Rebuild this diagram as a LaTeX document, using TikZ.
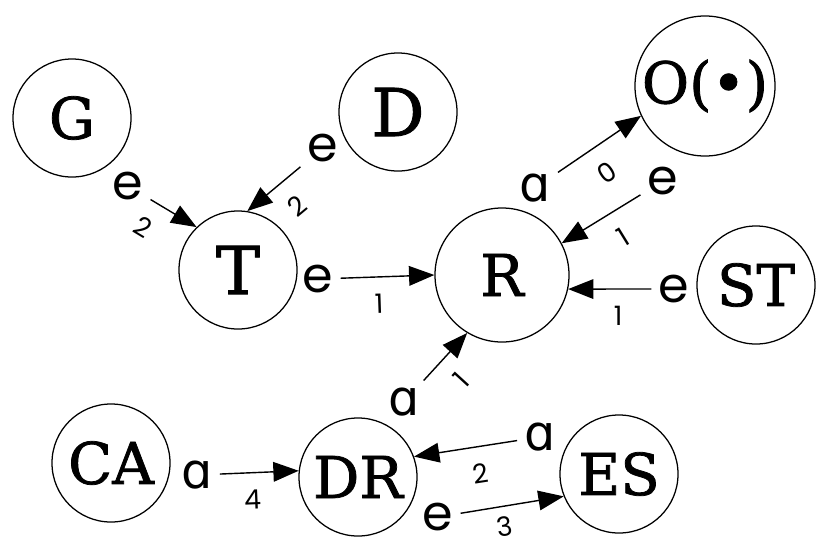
\documentclass[tikz,border=0pt]{standalone}
\usepackage{fontspec}
\setmainfont{DejaVu Serif}
\newfontfamily\nodefont[FakeBold=1.3]{DejaVu Serif}
\newfontfamily\lblfont{Poppins}
\newfontfamily\alffont{DejaVu Sans}
\usetikzlibrary{arrows.meta}

\begin{document}
\begin{tikzpicture}[
    x=0.025cm, y=-0.025cm,
    % states (circles)
    stnode/.style={circle, draw, line width=0.9pt, minimum size=2.95cm, inner sep=0pt,
                   font=\nodefont\fontsize{41}{45}\selectfont},
    bigtxt/.style={font=\nodefont\fontsize{47}{50}\selectfont},
    % edge labels (e / alpha) and weights
    lbl/.style={inner sep=5pt, font=\lblfont\fontsize{35}{35}\selectfont},
    alf/.style={lbl, font=\alffont\fontsize{35}{35}\selectfont},
    num/.style={sloped, below=#1, inner sep=1pt, pos=0.4,
                font=\lblfont\fontsize{19}{19}\selectfont},
    num/.default=11pt,
    arr/.style={-{Triangle[length=18pt,width=14pt]}, line width=1pt},
]
\useasboundingbox (0,0) rectangle (816,547);

% -------------------------
% States
% -------------------------
\node[stnode] (G) at (72,118) {G};
\node[stnode, bigtxt] (D) at (398,112) {D};
\node[stnode, bigtxt] (T) at (238,270) {T};
\node[stnode, minimum size=3.35cm] (R) at (502,275) {R};
\node[stnode, minimum size=3.5cm] (O) at (705,86) {O(•)};
\node[stnode] (ST) at (756,285) {ST};
\node[stnode] (CA) at (111,463) {CA};
\node[stnode] (DR) at (358,477) {DR};
\node[stnode] (ES) at (619,474) {ES};

% -------------------------
% Labels at the start of each edge
% -------------------------
\node[lbl] (eGT) at (128,186) {e};
\node[lbl] (eDT) at (323,148) {e};
\node[lbl] (eTR) at (318,279) {e};
\node[alf] (aRO) at (535,188) {ɑ};
\node[lbl] (eOR) at (663,181) {e};
\node[lbl] (eSR) at (674,289) {e};
\node[alf] (aDR) at (404,402) {ɑ};
\node[alf] (aCA) at (197,475) {ɑ};
\node[alf] (aES) at (540,437) {ɑ};
\node[lbl] (eDE) at (438,517) {e};

% -------------------------
% Edges with weights
% -------------------------
\draw[arr] (eGT) -- node[num, pos=0.15] {2} (T.134);
\draw[arr] (eDT) -- node[num] {2} (T.81);
\draw[arr] (eTR) -- node[num] {1} (R.180);
\draw[arr] (aRO) -- node[num] {0} (O.205);
\draw[arr] (eOR) -- node[num] {1} (R.28);
\draw[arr] (eSR) -- node[num] {1} (R.-12);
\draw[arr] (aDR) -- node[num] {1} (R.239);
\draw[arr] (aCA) -- node[num] {4} (DR.174);
\draw[arr] (aES) -- node[num] {2} (DR.20);
\draw[arr] (eDE) -- node[num=6pt] {3} (ES.202);

\end{tikzpicture}
\end{document}
